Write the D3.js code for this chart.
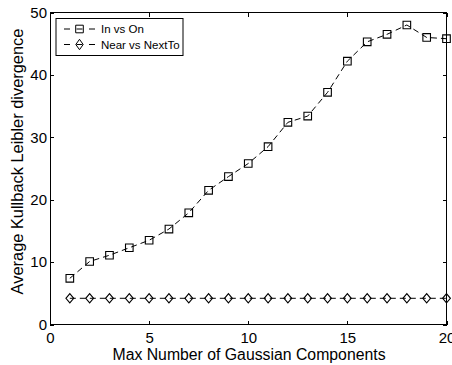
<!DOCTYPE html>
<html lang="en">
<head>
<meta charset="utf-8">
<script src="https://cdn.jsdelivr.net/npm/d3@7"></script>
<style>
  body { margin: 0; background: #fff; }
  svg text { font-family: "Liberation Sans", Arial, sans-serif; fill: #000; }
  .axis path, .axis line { stroke: #000; fill: none; shape-rendering: crispEdges; }
</style>
</head>
<body>
<script>
var components = [1, 2, 3, 4, 5, 6, 7, 8, 9, 10, 11, 12, 13, 14, 15, 16, 17, 18, 19, 20];
var inVsOn = [7.4, 10.1, 11.1, 12.3, 13.5, 15.3, 17.9, 21.5, 23.7, 25.8, 28.5, 32.4, 33.4, 37.2, 42.2, 45.3, 46.5, 48.0, 46.0, 45.8];
var nearVsNextTo = [4.2, 4.2, 4.2, 4.2, 4.2, 4.2, 4.2, 4.2, 4.2, 4.2, 4.2, 4.2, 4.2, 4.2, 4.2, 4.2, 4.2, 4.2, 4.2, 4.2];
var xTicks = [0, 5, 10, 15, 20];
var yTicks = [0, 10, 20, 30, 40, 50];

var W = 452, H = 365;
var pl = 50, pr = 446.5, pt = 12.5, pb = 324.5;

var svg = d3.select("body").append("svg").attr("width", W).attr("height", H);

var x = d3.scaleLinear().domain([0, 20]).range([pl, pr]);
var y = d3.scaleLinear().domain([0, 50]).range([pb, pt]);

// frame + ticks (inward on all four sides)
svg.append("g").attr("class", "axis").attr("transform", "translate(0," + pb + ")")
  .call(d3.axisBottom(x).tickValues(xTicks).tickSizeInner(-4).tickSizeOuter(0).tickPadding(8))
  .call(function(g) { g.selectAll("text").attr("font-size", 15); });
svg.append("g").attr("class", "axis").attr("transform", "translate(0," + pt + ")")
  .call(d3.axisTop(x).tickValues(xTicks).tickSizeInner(-4).tickSizeOuter(0).tickFormat(""));
svg.append("g").attr("class", "axis").attr("transform", "translate(" + pl + ",0)")
  .call(d3.axisLeft(y).tickValues(yTicks).tickSizeInner(-4).tickSizeOuter(0).tickPadding(3))
  .call(function(g) { g.selectAll("text").attr("font-size", 15); });
svg.append("g").attr("class", "axis").attr("transform", "translate(" + pr + ",0)")
  .call(d3.axisRight(y).tickValues(yTicks).tickSizeInner(-4).tickSizeOuter(0).tickFormat(""));
svg.selectAll(".axis .domain").remove();
svg.append("rect").attr("x", pl).attr("y", pt).attr("width", pr - pl).attr("height", pb - pt)
  .attr("fill", "none").attr("stroke", "#000").attr("shape-rendering", "crispEdges");

var line = d3.line().x(function(d) { return x(d[0]); }).y(function(d) { return y(d[1]); });

function drawSeries(vals, shape) {
  var pts = components.map(function(c, i) { return [c, vals[i]]; });
  svg.append("path").datum(pts).attr("d", line)
    .attr("fill", "none").attr("stroke", "#000").attr("stroke-width", 1)
    .attr("stroke-dasharray", "6,4");
  svg.selectAll(null).data(pts).enter().append("path")
    .attr("transform", function(d) { return "translate(" + x(d[0]) + "," + y(d[1]) + ")"; })
    .attr("d", shape)
    .attr("fill", "none").attr("stroke", "#000").attr("stroke-width", 1.1);
}
var square = "M-3.8,-3.8H3.8V3.8H-3.8Z";
var diamond = "M0,-4.6L3.9,0L0,4.6L-3.9,0Z";
var legDiamond = "M0,-5.2L3.7,0L0,5.2L-3.7,0Z";
drawSeries(inVsOn, square);
drawSeries(nearVsNextTo, diamond);

// legend
var lg = svg.append("g");
lg.append("rect").attr("x", 56).attr("y", 18.5).attr("width", 127).attr("height", 37)
  .attr("fill", "#fff").attr("stroke", "#000");
var legendItems = [["In vs On", square], ["Near vs NextTo", legDiamond]];
legendItems.forEach(function(it, i) {
  var ly = 29 + i * 15.5;
  lg.append("line").attr("x1", 64).attr("x2", 97).attr("y1", ly).attr("y2", ly)
    .attr("stroke", "#000").attr("stroke-dasharray", "6,6.5");
  lg.append("path").attr("transform", "translate(79.5," + ly + ")").attr("d", it[1])
    .attr("fill", "none").attr("stroke", "#000");
  lg.append("text").attr("x", 101).attr("y", ly + 4).attr("font-size", 11.5).text(it[0]);
});

// axis titles
svg.append("text").attr("x", 249).attr("y", 359.5).attr("text-anchor", "middle")
  .attr("font-size", 15.8).text("Max Number of Gaussian Components");
svg.append("text").attr("transform", "translate(23,161.5) rotate(-90)")
  .attr("text-anchor", "middle").attr("font-size", 16.4).text("Average Kullback Leibler divergence");
</script>
</body>
</html>
